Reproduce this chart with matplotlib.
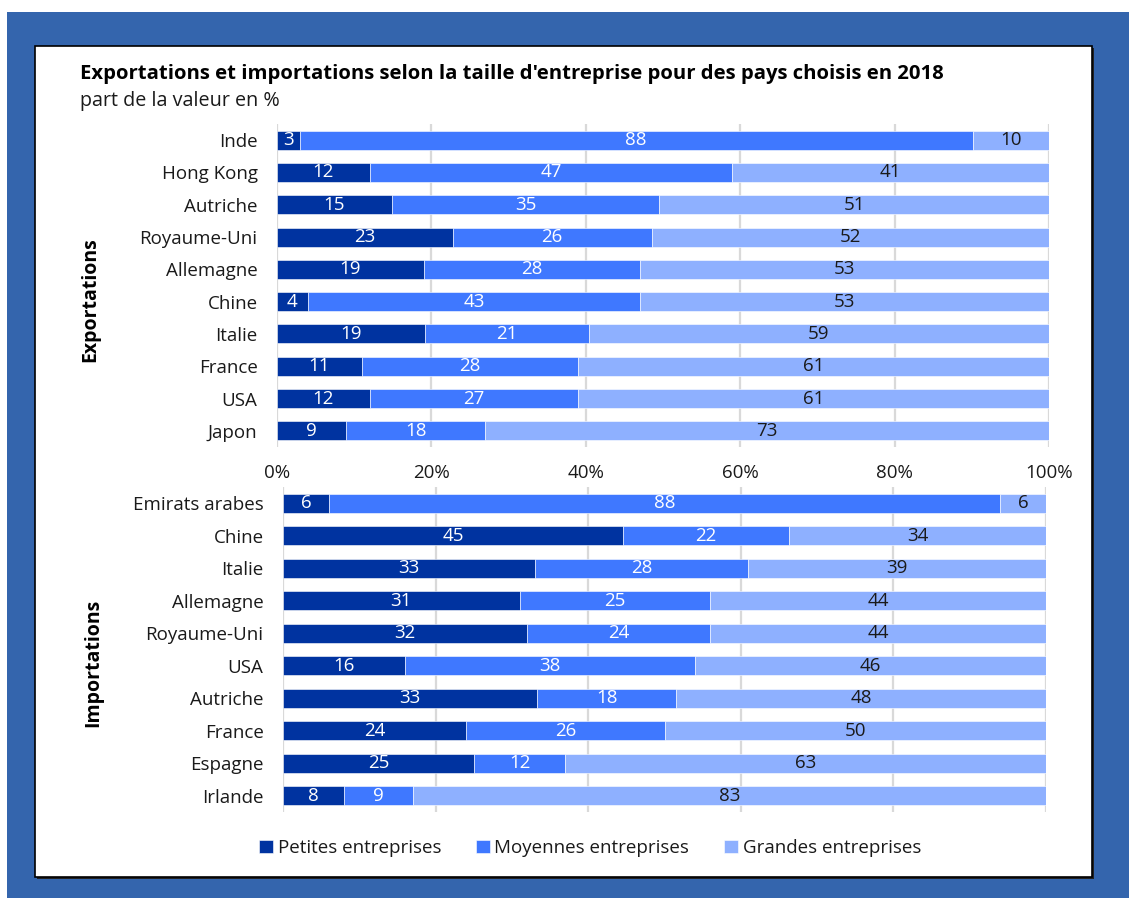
import numpy as np
import matplotlib
matplotlib.use("Agg")
import matplotlib.pyplot as plt
from matplotlib.patches import Rectangle
from matplotlib.ticker import PercentFormatter

plt.rcParams["font.family"] = ["Open Sans", "DejaVu Sans"]

W_PX, H_PX = 1129, 898

# ── données (part de la valeur en %) ─────────────────────────
SERIES = ["Petites entreprises", "Moyennes entreprises", "Grandes entreprises"]
COLORS = ["#0033A0", "#3F78FF", "#8EB0FF"]
LABEL_COLORS = ["white", "white", "#1a1a1a"]

exp_pays = ["Inde", "Hong Kong", "Autriche", "Royaume-Uni", "Allemagne",
            "Chine", "Italie", "France", "USA", "Japon"]
exp_petites = [3, 12, 15, 23, 19, 4, 19, 11, 12, 9]
exp_moyennes = [88, 47, 35, 26, 28, 43, 21, 28, 27, 18]
exp_grandes = [10, 41, 51, 52, 53, 53, 59, 61, 61, 73]

imp_pays = ["Emirats arabes", "Chine", "Italie", "Allemagne", "Royaume-Uni",
            "USA", "Autriche", "France", "Espagne", "Irlande"]
imp_petites = [6, 45, 33, 31, 32, 16, 33, 24, 25, 8]
imp_moyennes = [88, 22, 28, 25, 24, 38, 18, 26, 12, 9]
imp_grandes = [6, 34, 39, 44, 44, 46, 48, 50, 63, 83]

TITLE = "Exportations et importations selon la taille d'entreprise pour des pays choisis en 2018"
SUBTITLE = "part de la valeur en %"


def px_rect(x0, y0, x1, y1):
    """rectangle en pixels (origine en haut à gauche) -> coordonnées figure"""
    return [x0 / W_PX, 1 - y1 / H_PX, (x1 - x0) / W_PX, (y1 - y0) / H_PX]


def draw_panel(ax, pays, cols, show_xticks):
    vals = np.array(cols, dtype=float)
    shares = vals / vals.sum(axis=0) * 100   # barres empilées à 100 %
    y = np.arange(len(pays))
    left = np.zeros(len(pays))
    handles = []
    for i in range(3):
        bars = ax.barh(y, shares[i], left=left, height=0.59, color=COLORS[i],
                       edgecolor="white", linewidth=0.4, label=SERIES[i], zorder=2)
        ax.bar_label(bars, labels=[f"{int(v)}" for v in vals[i]], label_type="center",
                     color=LABEL_COLORS[i], fontsize=13.5)
        left += shares[i]
        handles.append(bars)
    ax.set_xlim(0, 100)
    ax.set_ylim(len(pays) - 0.5, -0.5)
    ax.set_yticks(y, pays)
    ax.set_xticks(np.arange(0, 101, 20))
    ax.xaxis.set_major_formatter(PercentFormatter(decimals=0))
    ax.xaxis.grid(True, color="#D9D9D9", lw=1.6)
    ax.set_axisbelow(True)
    for s in ax.spines.values():
        s.set_visible(False)
    ax.tick_params(axis="y", length=0, labelsize=13.5, pad=14, labelcolor="#1a1a1a")
    ax.tick_params(axis="x", length=0, labelsize=13.5, pad=12, labelcolor="#1a1a1a",
                   labelbottom=show_xticks)
    ax.set_facecolor("none")
    return handles


fig = plt.figure(figsize=(W_PX / 100, H_PX / 100), dpi=100)

# cadre bleu + panneau blanc bordé de noir (avec ombre)
fig.add_artist(Rectangle((7 / W_PX, 0), 1, 1 - 12 / H_PX, transform=fig.transFigure,
                         facecolor="#3465AD", edgecolor="none", zorder=-20))
r = px_rect(37, 48, 1094, 879)
fig.add_artist(Rectangle((r[0], r[1]), r[2], r[3], transform=fig.transFigure,
                         facecolor="#222222", edgecolor="none", zorder=-15))
r = px_rect(35, 46, 1092, 877)
fig.add_artist(Rectangle((r[0], r[1]), r[2], r[3], transform=fig.transFigure,
                         facecolor="white", edgecolor="black", lw=1.2, zorder=-10))

ax_exp = fig.add_axes(px_rect(277, 124, 1049, 447))
ax_imp = fig.add_axes(px_rect(283, 487, 1046, 812))

handles = draw_panel(ax_exp, exp_pays, [exp_petites, exp_moyennes, exp_grandes], True)
draw_panel(ax_imp, imp_pays, [imp_petites, imp_moyennes, imp_grandes], False)

fig.text(80 / W_PX, 1 - 74 / H_PX, TITLE, fontsize=14.6, fontweight="bold",
         va="center", ha="left", color="black")
fig.text(80 / W_PX, 1 - 101 / H_PX, SUBTITLE, fontsize=14.2, va="center", ha="left",
         color="#1a1a1a")

fig.text(90 / W_PX, 1 - 300 / H_PX, "Exportations", rotation=90, fontsize=14,
         fontweight="bold", ha="center", va="center")
fig.text(93 / W_PX, 1 - 663 / H_PX, "Importations", rotation=90, fontsize=14,
         fontweight="bold", ha="center", va="center")

fig.legend(handles, SERIES, loc="center", bbox_to_anchor=(590 / W_PX, 1 - 848 / H_PX),
           ncol=3, frameon=False, fontsize=13.5, handlelength=0.75, handleheight=0.75,
           handletextpad=0.25, columnspacing=1.85, labelcolor="#1a1a1a")

fig.savefig("out.png", dpi=100)
